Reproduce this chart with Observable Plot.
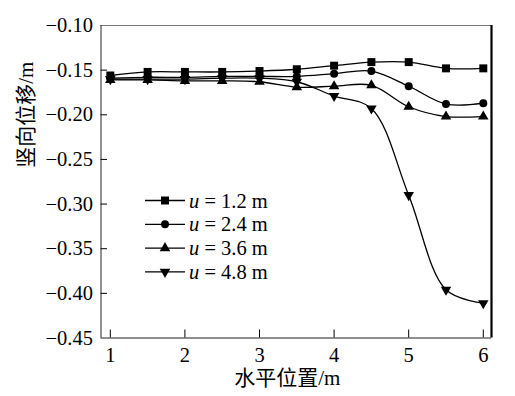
<!DOCTYPE html>
<html>
<head>
<meta charset="utf-8">
<script src="https://cdn.jsdelivr.net/npm/d3@7"></script>
<script src="https://cdn.jsdelivr.net/npm/@observablehq/plot@0.6"></script>
<style>
  html, body { margin: 0; padding: 0; background: #fff; }
  #chart svg { display: block; }
</style>
</head>
<body>
<div id="chart"></div>
<script>
// ---- data ----
const xPositions = [1, 1.5, 2, 2.5, 3, 3.5, 4, 4.5, 5, 5.5, 6];
const u12 = [-0.156, -0.152, -0.152, -0.152, -0.151, -0.149, -0.145, -0.141, -0.141, -0.148, -0.148];
const u24 = [-0.159, -0.158, -0.158, -0.157, -0.157, -0.157, -0.154, -0.151, -0.168, -0.188, -0.187];
const u36 = [-0.161, -0.161, -0.162, -0.162, -0.163, -0.169, -0.168, -0.167, -0.191, -0.202, -0.202];
const u48 = [-0.160, -0.160, -0.160, -0.159, -0.159, -0.163, -0.179, -0.193, -0.290, -0.396, -0.411];
const seriesLabels = ["1.2 m", "2.4 m", "3.6 m", "4.8 m"];
const xTicks = [1, 2, 3, 4, 5, 6];
const yTicks = [-0.45, -0.40, -0.35, -0.30, -0.25, -0.20, -0.15, -0.10];
const xTitle = "水平位置/m";
const yTitle = "竖向位移/m";

const FONT = "Liberation Serif";
const TITLE_FONT = "Liberation Serif, Noto Sans CJK SC";

// ---- symbols ----
const symbolTriangleDown = {
  draw(context, size) {
    const y = -Math.sqrt(size / (Math.sqrt(3) * 3));
    context.moveTo(0, -y * 2);
    context.lineTo(-Math.sqrt(3) * y, y);
    context.lineTo(Math.sqrt(3) * y, y);
    context.closePath();
  }
};
const symbols = [d3.symbolSquare, d3.symbolCircle, d3.symbolTriangle, symbolTriangleDown];
const radii = [4.5, 4, 3.9, 3.9];
const seriesValues = [u12, u24, u36, u48];

const rows = [];
seriesValues.forEach((vals, s) => {
  vals.forEach((v, i) => rows.push({series: s, x: xPositions[i], y: v}));
});

const xDomain = [0.875, 6.11];
const yDomain = [-0.45, -0.10];
const fmtY = d => d.toFixed(2).replace("-", "\u2212");

// legend drawn inside the frame
function legendMark(index, scales, values, dims) {
  const g = d3.create("svg:g");
  const left = dims.marginLeft + 44.5;
  const top = dims.marginTop + 175.5;
  const step = 23.8;
  seriesLabels.forEach((lab, i) => {
    const y = top + i * step;
    g.append("line")
      .attr("x1", left).attr("x2", left + 40)
      .attr("y1", y).attr("y2", y)
      .attr("stroke", "#000").attr("stroke-width", 1.3);
    const r = radii[i];
    g.append("path")
      .attr("d", d3.symbol(symbols[i], Math.PI * r * r)())
      .attr("transform", `translate(${left + 20},${y})`)
      .attr("fill", "#000");
    const t = g.append("text")
      .attr("x", left + 44).attr("y", y)
      .attr("dy", "0.35em")
      .attr("text-anchor", "start")
      .attr("font-family", FONT)
      .attr("font-size", 20.5)
      .attr("fill", "#000");
    t.append("tspan").attr("font-style", "italic").text("u");
    t.append("tspan").text(" = " + lab);
  });
  return g.node();
}

const marks = [];
seriesValues.forEach((vals, s) => {
  const data = rows.filter(d => d.series === s);
  marks.push(Plot.line(data, {x: "x", y: "y", curve: "catmull-rom", stroke: "#000", strokeWidth: 1.3}));
  marks.push(Plot.dot(data, {x: "x", y: "y", symbol: symbols[s], r: radii[s], fill: "#000", stroke: "none"}));
});

const plot = Plot.plot({
  width: 515,
  height: 396,
  marginLeft: 100.5,
  marginRight: 24,
  marginTop: 25,
  marginBottom: 58.5,
  style: "font-family: 'Liberation Serif', serif; font-size: 20px; color: #000; background: #fff;",
  x: {domain: xDomain, axis: null},
  y: {domain: yDomain, axis: null},
  marks: [
    // tick labels
    Plot.text(xTicks, {x: d => d, text: d => String(d), frameAnchor: "bottom", lineAnchor: "top", dy: 9, fontSize: 20.5, fontFamily: FONT, fill: "#000"}),
    Plot.text(yTicks, {y: d => d, text: fmtY, frameAnchor: "left", textAnchor: "end", lineAnchor: "middle", dx: -8, fontSize: 20.5, fontFamily: FONT, fill: "#000"}),
    // inward ticks
    Plot.ruleX(xTicks, {x: d => d, y1: yDomain[0], y2: yDomain[0] + 8 / 893, stroke: "#000", strokeWidth: 1}),
    Plot.ruleY(yTicks.slice(1, -1), {y: d => d, x1: xDomain[0], x2: xDomain[0] + 6.5 / 74.5, stroke: "#000", strokeWidth: 1}),
    // frame
    Plot.ruleY([yDomain[1]], {stroke: "#777", strokeWidth: 1}),
    Plot.ruleX([xDomain[0]], {stroke: "#222", strokeWidth: 1}),
    Plot.ruleY([yDomain[0]], {stroke: "#222", strokeWidth: 1.2}),
    Plot.ruleX([xDomain[1]], {stroke: "#000", strokeWidth: 2.2}),
    ...marks,
    legendMark,
    Plot.text([xTitle], {text: d => d, frameAnchor: "bottom", lineAnchor: "middle", dx: -9, dy: 40, fontSize: 21, fontFamily: TITLE_FONT, fill: "#000"}),
    Plot.text([yTitle], {text: d => d, frameAnchor: "left", lineAnchor: "middle", dx: -75, dy: -14, rotate: -90, fontSize: 21, fontFamily: TITLE_FONT, fill: "#000"})
  ]
});
document.getElementById("chart").appendChild(plot);
</script>
</body>
</html>
